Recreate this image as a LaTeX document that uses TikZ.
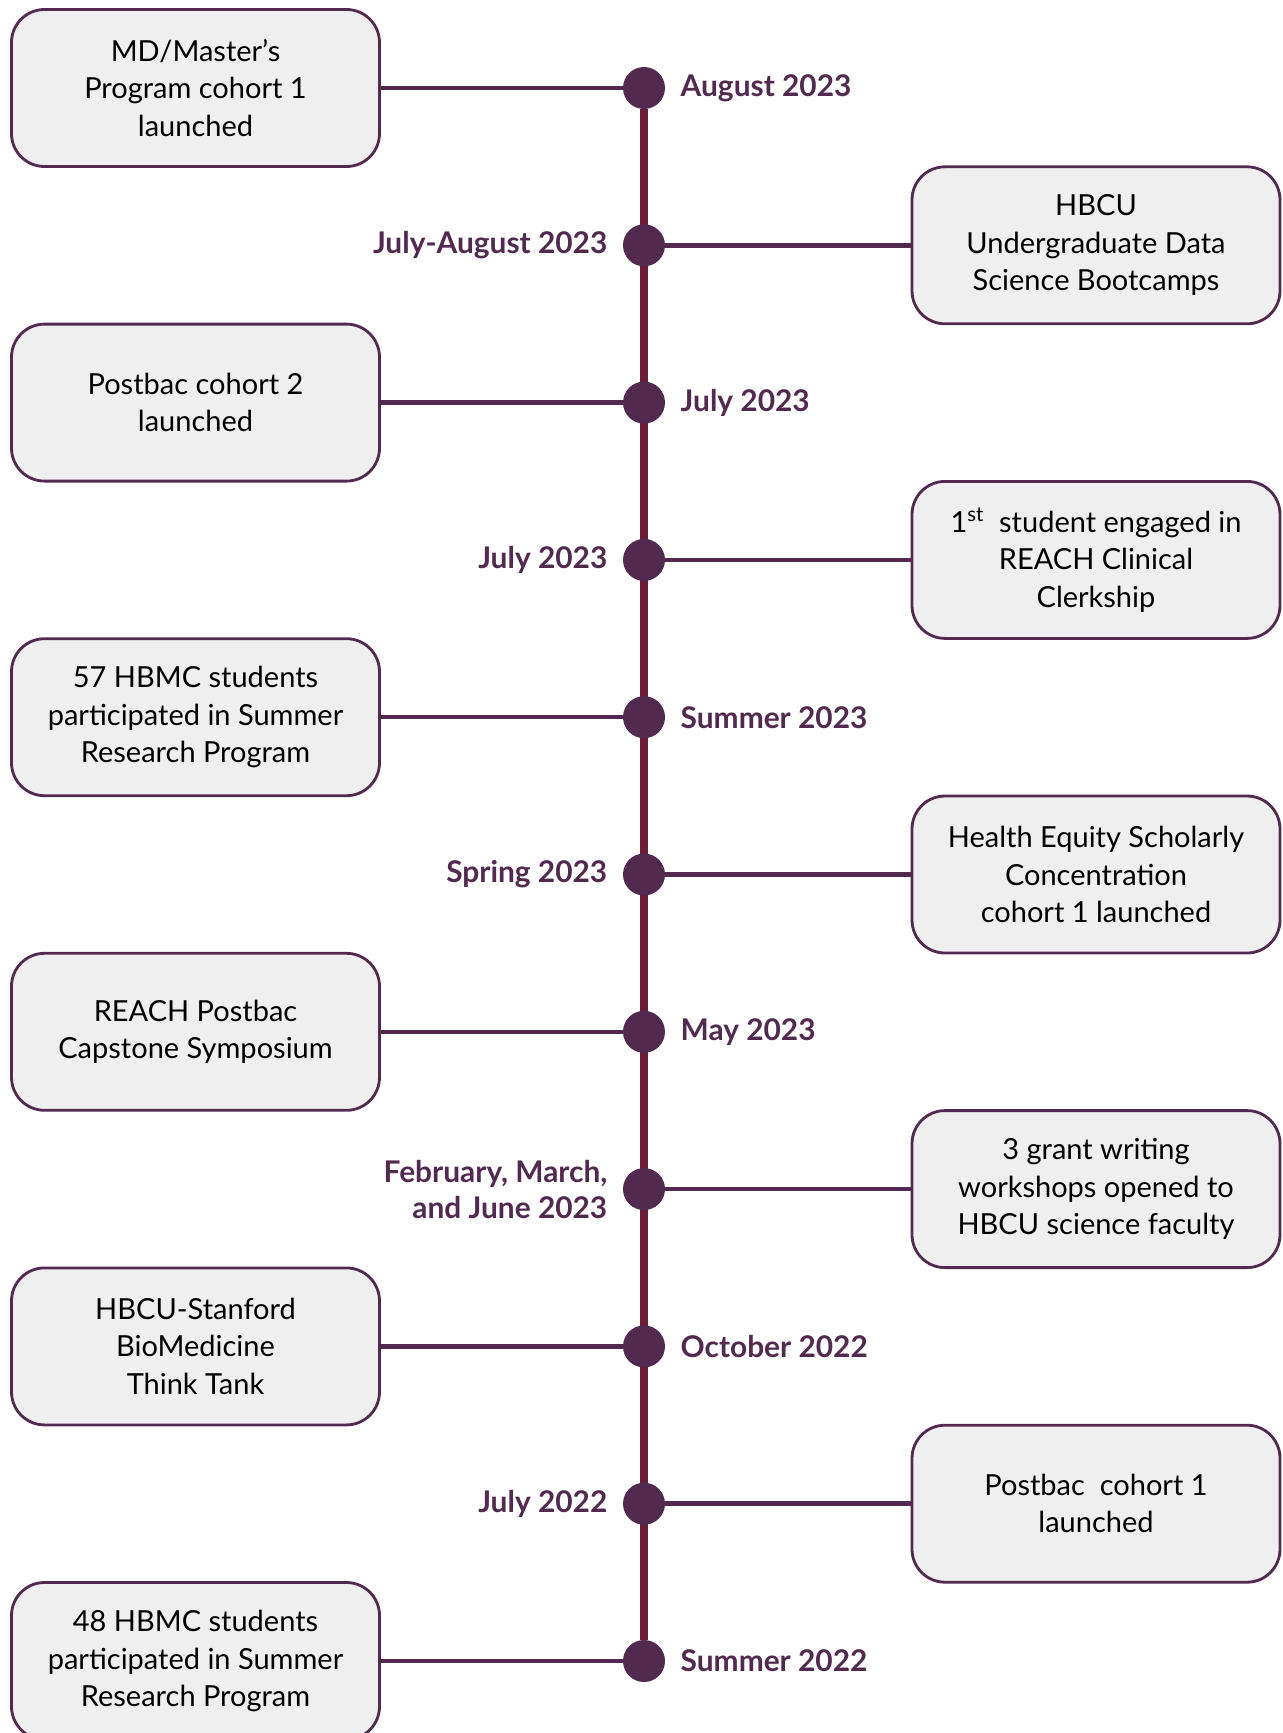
\documentclass[tikz,border=0pt]{standalone}
\usepackage{fontspec}
\setmainfont{Lato}
\usepackage{xcolor}
\usetikzlibrary{positioning, backgrounds, calc}
\definecolor{morado}{HTML}{522A4F}
\definecolor{granate}{HTML}{6A1C38}
\definecolor{grisclaro}{HTML}{EFEFEF}
\tikzset{
  caja/.style={rectangle, rounded corners=0.66cm, draw=morado, line width=1.6pt,
    fill=grisclaro, minimum width=7.36cm, minimum height=3.14cm, inner sep=0pt,
    align=center, font=\fontsize{16.5}{21.3}\selectfont},
  punto/.style={circle, fill=morado, minimum size=0.84cm, inner sep=0pt},
  conector/.style={morado, line width=2.6pt},
  linea/.style={granate, line width=4pt},
  fecha/.style={text=morado, inner sep=0pt, font=\fontsize{17}{20.5}\selectfont\bfseries}
}

\begin{document}
\begin{tikzpicture}
  \useasboundingbox (0,0) rectangle (25.66,-34.66);

  % --- Hitos (impares a la izquierda, pares a la derecha) ---
  \foreach \i/\fecha/\texto in {
      1/August 2023/{MD/Master's\\Program cohort 1\\launched},
      2/July-August 2023/{HBCU\\Undergraduate Data\\Science Bootcamps},
      3/July 2023/{Postbac cohort 2\\launched},
      4/July 2023/{1\textsuperscript{st}~ student engaged in\\REACH Clinical\\Clerkship},
      5/Summer 2023/{57 HBMC students\\participated in Summer\\Research Program},
      6/Spring 2023/{Health Equity Scholarly\\Concentration\\cohort 1 launched},
      7/May 2023/{REACH Postbac\\Capstone Symposium},
      8/{February, March,\\and June 2023}/{3 grant writing\\workshops opened to\\HBCU science faculty},
      9/October 2022/{HBCU-Stanford\\BioMedicine\\Think Tank},
      10/July 2022/{Postbac~ cohort 1\\launched},
      11/Summer 2022/{48 HBMC students\\participated in Summer\\Research Program}} {
    \pgfmathsetmacro\y{-1.76-3.146*(\i-1)}
    \node[punto] (punto\i) at (12.88,\y) {};
    \ifodd\i
      \node[caja] (caja\i) at (3.91,\y) {\texto};
      \node[fecha, align=left, right=0.3cm of punto\i] (fecha\i) {\fecha};
    \else
      \node[caja] (caja\i) at (21.92,\y) {\texto};
      \node[fecha, align=right, left=0.3cm of punto\i] (fecha\i) {\fecha};
    \fi
    \draw[conector] (caja\i) -- (punto\i);
  }

  % --- Eje ---
  \begin{scope}[on background layer]
    \draw[linea] (punto1) -- (punto11);
  \end{scope}

\end{tikzpicture}
\end{document}
